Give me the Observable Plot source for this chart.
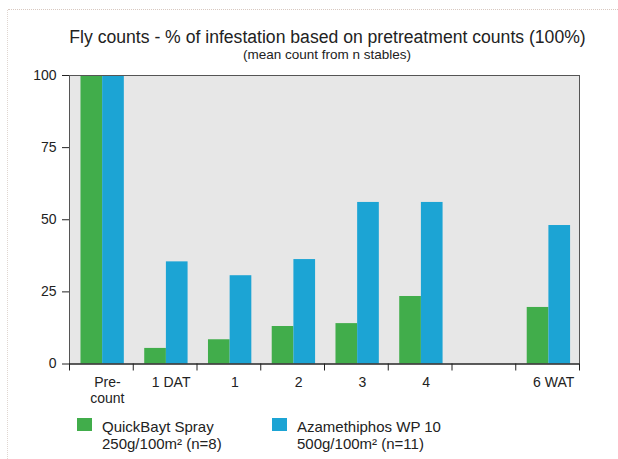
<!DOCTYPE html>
<html><head><meta charset="utf-8">
<script src="https://cdn.jsdelivr.net/npm/d3@7"></script>
<script src="https://cdn.jsdelivr.net/npm/@observablehq/plot@0.6"></script>
<style>
body{margin:0;background:#fff;font-family:"Liberation Sans",Arial,sans-serif;color:#222}
#wrap{position:relative;width:618px;height:459px;overflow:hidden;background:#fff}
#topline{position:absolute;left:8px;right:0;top:9px;border-top:1px dotted #d8c8c0}
#leftline{position:absolute;left:7px;top:10px;bottom:0;border-left:1px dotted #e0d6d0}
#title{position:absolute;left:0;width:655px;top:27px;text-align:center;font-size:17.6px;white-space:nowrap}
#subtitle{position:absolute;left:0;width:654px;top:47px;text-align:center;font-size:13.5px;white-space:nowrap}
#chart{position:absolute;left:0;top:64px}
.leg{position:absolute;font-size:15px;line-height:17px;white-space:nowrap}
.sw{position:absolute;width:15px;height:13px}
</style>
</head><body>
<div id="wrap">
  <div id="topline"></div><div id="leftline"></div>
  <div id="title">Fly counts - % of infestation based on pretreatment counts (100%)</div>
  <div id="subtitle">(mean count from n stables)</div>
  <div id="chart"></div>
  <div class="sw" id="sw0" style="left:77px;top:418px"></div>
  <div class="leg" id="lg0" style="left:102px;top:418px"></div>
  <div class="sw" id="sw1" style="left:272px;top:418px"></div>
  <div class="leg" id="lg1" style="left:297px;top:418px"></div>
</div>
<script>
const categories = ["Pre-\ncount", "1 DAT", "1", "2", "3", "4", "", "6 WAT"];
const quickBayt = [100, 5.4, 8.4, 13, 14, 23.4, null, 19.6];
const azamethiphos = [100, 35.4, 30.6, 36.2, 56, 56, null, 48];
const seriesNames = ["QuickBayt Spray", "Azamethiphos WP 10"];
const seriesDoses = ["250g/100m\u00B2  (n=8)", "500g/100m\u00B2  (n=11)"];
const seriesColors = ["#41ad4b", "#1ca4d4"];
const yTicks = [0, 25, 50, 75, 100];

const rows = [];
categories.forEach((c, i) => {
  [quickBayt, azamethiphos].forEach((arr, s) => {
    if (arr[i] != null) rows.push({i, s, series: seriesNames[s], value: arr[i]});
  });
});

const chart = Plot.plot({
  width: 618,
  height: 350,
  marginLeft: 69,
  marginRight: 39,
  marginTop: 11,
  marginBottom: 50.5,
  style: {fontFamily: '"Liberation Sans", Arial, sans-serif', fontSize: "14px", color: "#222", background: "transparent"},
  x: {domain: [0, categories.length]},
  y: {domain: [0, 100]},
  color: {domain: seriesNames, range: seriesColors},
  marks: [
    Plot.frame({fill: "#e7e7e7", stroke: null}),
    Plot.rectY(rows, {
      x1: d => d.i + (d.s === 0 ? 0.18 : 0.52),
      x2: d => d.i + (d.s === 0 ? 0.52 : 0.86),
      y1: 0, y2: "value", fill: "series"
    }),
    Plot.frame({stroke: "#555", strokeWidth: 1}),
    Plot.ruleY([0], {stroke: "#111", strokeWidth: 1.2}),
    Plot.axisY({ticks: yTicks, tickSize: 7, tickPadding: 6, label: null, fontSize: 14}),
    Plot.axisX({ticks: d3.range(categories.length + 1), tickSize: 7, tickFormat: () => "", label: null}),
    Plot.axisX({ticks: d3.range(categories.length).map(i => i + 0.5), tickSize: 0, tickPadding: 12, dx: 6,
      tickFormat: v => categories[Math.floor(v)], label: null, fontSize: 14, lineHeight: 1.12})
  ]
});
document.getElementById("chart").appendChild(chart);

[0, 1].forEach(s => {
  document.getElementById("sw" + s).style.background = seriesColors[s];
  document.getElementById("lg" + s).innerHTML = seriesNames[s] + "<br>" + seriesDoses[s];
});
</script>
</body></html>
